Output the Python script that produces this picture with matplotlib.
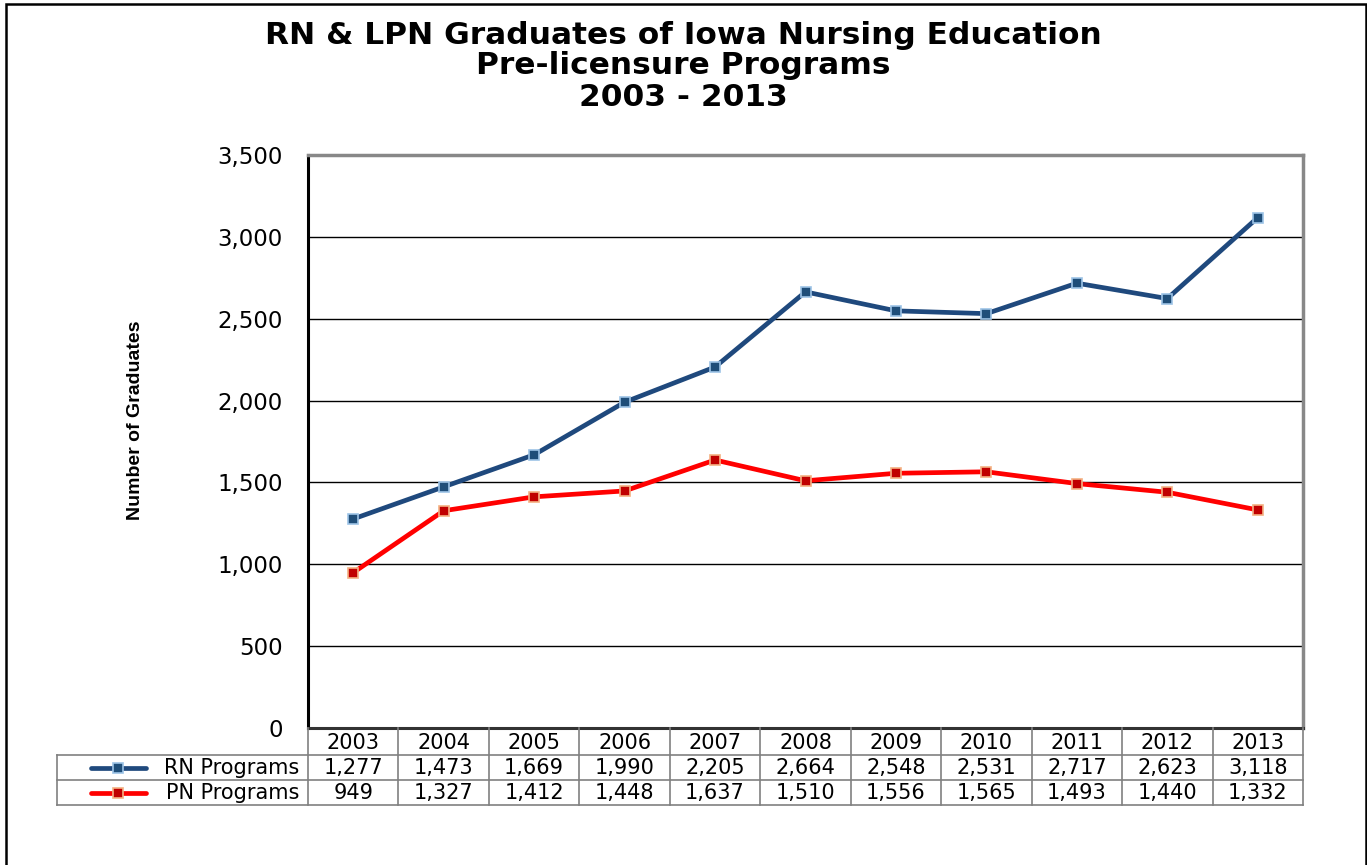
import matplotlib
matplotlib.use("Agg")
import matplotlib.pyplot as plt
from matplotlib.lines import Line2D
from matplotlib.patches import Rectangle
import matplotlib.transforms as mtransforms

years = ["2003", "2004", "2005", "2006", "2007", "2008", "2009", "2010", "2011", "2012", "2013"]
rn_values = [1277, 1473, 1669, 1990, 2205, 2664, 2548, 2531, 2717, 2623, 3118]
pn_values = [949, 1327, 1412, 1448, 1637, 1510, 1556, 1565, 1493, 1440, 1332]
series_names = ["RN Programs", "PN Programs"]
yticks = [0, 500, 1000, 1500, 2000, 2500, 3000, 3500]

plt.rcParams['font.family'] = ['DejaVu Sans']

W, H = 1367, 865
fig = plt.figure(figsize=(W / 100, H / 100), dpi=100)

def fx(px):
    return px / W

def fy(py):
    return 1 - py / H

# outer border
fig.add_artist(Rectangle((fx(6), fy(900)), fx(1360), fy(4) - fy(900), fill=False,
                         edgecolor='black', linewidth=1.8, transform=fig.transFigure))

L, R, T, B = 308, 1303, 155, 728
ax = fig.add_axes([fx(L), fy(B), fx(R - L), fy(T) - fy(B)])
x = list(range(len(years)))

rn_c = '#1F497D'
pn_c = '#FF0000'
ax.plot(x, rn_values, color=rn_c, lw=3.4, marker='s', ms=7.5, mfc='#1F4E79',
        mec='#9DC3E6', mew=1.2, zorder=4, solid_capstyle='round')
ax.plot(x, pn_values, color=pn_c, lw=3.4, marker='s', ms=7.5, mfc='#C00000',
        mec='#F4B183', mew=1.2, zorder=4, solid_capstyle='round')

ax.set_xlim(-0.5, len(years) - 0.5)
ax.set_ylim(0, 3500)
ax.set_yticks(yticks)
ax.set_yticklabels([f"{v:,}" for v in yticks], fontsize=16.5)
ax.tick_params(axis='y', length=0, pad=18)
ax.set_xticks([])
ax.grid(axis='y', color='black', lw=1.0)
ax.set_axisbelow(True)
for side in ['top', 'right']:
    ax.spines[side].set_color('#888888')
    ax.spines[side].set_linewidth(2.5)
ax.spines['left'].set_color('black')
ax.spines['left'].set_linewidth(2.2)
ax.spines['bottom'].set_color('#333333')
ax.spines['bottom'].set_linewidth(2.2)

fig.text(fx(136), fy(420), "Number of Graduates", rotation=90, ha='center', va='center',
         fontsize=14, fontweight='bold', family=['Liberation Sans', 'DejaVu Sans'])

for ty, line in [(35, "RN & LPN Graduates of Iowa Nursing Education"),
                 (66, "Pre-licensure Programs"),
                 (97, "2003 - 2013")]:
    fig.text(0.5, fy(ty), line, ha='center', va='center', fontsize=22.5, fontweight='bold')

# data table under the axis
trans = mtransforms.blended_transform_factory(ax.transData, fig.transFigure)
grid_c = '#808080'
table_left = 57
for yl in [755, 780, 805]:
    fig.add_artist(Line2D([fx(table_left), fx(R)], [fy(yl), fy(yl)], color=grid_c, lw=1.2,
                          transform=fig.transFigure))
for k in range(len(years) + 1):
    xv = k - 0.5
    fig.add_artist(Line2D([xv, xv], [fy(B), fy(805)], color=grid_c, lw=1.2, transform=trans))
fig.add_artist(Line2D([fx(table_left), fx(table_left)], [fy(755), fy(805)], color=grid_c, lw=1.2,
                      transform=fig.transFigure))

tfs = 15
for i, yr in enumerate(years):
    fig.text(i, fy(743), yr, transform=trans, ha='center', va='center', fontsize=tfs)
    fig.text(i, fy(768), f"{rn_values[i]:,}", transform=trans, ha='center', va='center', fontsize=tfs)
    fig.text(i, fy(793), f"{pn_values[i]:,}", transform=trans, ha='center', va='center', fontsize=tfs)

# legend keys
for yrow, name, lc, fc, ec in [(768, series_names[0], rn_c, '#1F4E79', '#9DC3E6'),
                                (793, series_names[1], pn_c, '#C00000', '#F4B183')]:
    fig.add_artist(Line2D([fx(91), fx(146)], [fy(yrow), fy(yrow)], color=lc, lw=3.4,
                          solid_capstyle='round', transform=fig.transFigure))
    fig.add_artist(Line2D([fx(118)], [fy(yrow)], marker='s', ms=7.5, mfc=fc, mec=ec, mew=1.2,
                          transform=fig.transFigure))
    fig.text(fx(299), fy(yrow), name, ha='right', va='center', fontsize=tfs)

fig.savefig("out.png", dpi=100)
